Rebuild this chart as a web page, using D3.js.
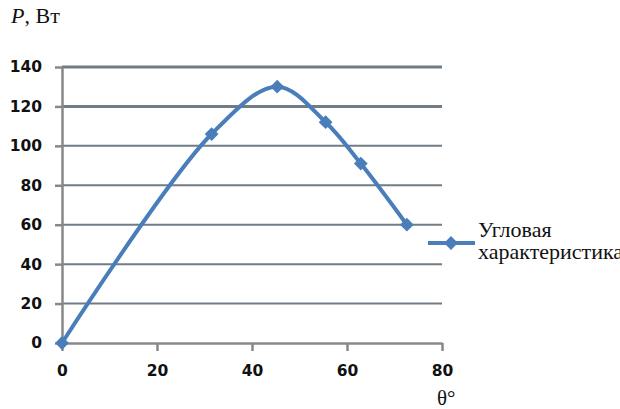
<!DOCTYPE html>
<html><head><meta charset="utf-8">
<script src="https://cdn.jsdelivr.net/npm/d3@7"></script>
<style>
body{margin:0;}
#wrap{position:relative;width:620px;height:409px;background:#fff;}
#wrap svg{position:absolute;left:0;top:0;}
.lbl{position:absolute;font-family:"Liberation Serif","Times New Roman",serif;color:#111;white-space:nowrap;line-height:1;}
</style>
</head>
<body>
<div id="wrap"><svg id="chart" width="620" height="409"></svg></div>
<script>
const thetaValues = [0, 31.5, 45.3, 55.5, 62.9, 72.6];
const powerValues = [0, 106, 130, 112, 91, 60];
const xTicks = [0, 20, 40, 60, 80];
const yTicks = [0, 20, 40, 60, 80, 100, 120, 140];
const seriesName = ["Угловая", "характеристика"];
const yTitle = ", Вт";
const yTitleVar = "P";
const xTitle = "θ°";

const SANS = "DejaVu Sans";
const svg = d3.select("#chart");
const wrap = d3.select("#wrap");
const x = d3.scaleLinear().domain([0, 80]).range([62, 442]);
const y = d3.scaleLinear().domain([0, 140]).range([343, 67]);

// gridlines
svg.append("g").selectAll("line").data(yTicks.filter(d => d > 0)).join("line")
  .attr("x1", x(0)).attr("x2", x(80))
  .attr("y1", d => y(d)).attr("y2", d => y(d))
  .attr("stroke", "#717c85")
  .attr("stroke-width", d => d >= 120 ? 3 : 2);

const yAxis = svg.append("g").attr("transform", `translate(${x(0)},0)`)
  .call(d3.axisLeft(y).tickValues(yTicks).tickSize(7).tickSizeOuter(0).tickPadding(13));
const xAxis = svg.append("g").attr("transform", `translate(0,${y(0)})`)
  .call(d3.axisBottom(x).tickValues(xTicks).tickSize(8).tickSizeOuter(0).tickPadding(14));

[yAxis, xAxis].forEach(g => {
  g.attr("font-family", SANS).attr("font-size", 15.5).attr("font-weight", "bold");
  g.select(".domain").attr("stroke", "#888").attr("stroke-width", 2.5);
  g.selectAll(".tick line").attr("stroke", "#888").attr("stroke-width", 2.5);
  g.selectAll(".tick text").attr("fill", "#111");
});

const pts = thetaValues.map((t, i) => [t, powerValues[i]]);
const line = d3.line().x(d => x(d[0])).y(d => y(d[1])).curve(d3.curveCatmullRom.alpha(0.5));
const blue = "#4a7ebb";
svg.append("path").attr("d", line(pts)).attr("fill", "none")
  .attr("stroke", blue).attr("stroke-width", 4).attr("stroke-linejoin", "round");
const diamond = d3.symbol().type(d3.symbolSquare).size(95);
svg.append("g").selectAll("path").data(pts).join("path")
  .attr("d", diamond)
  .attr("transform", d => `translate(${x(d[0])},${y(d[1])}) rotate(45)`)
  .attr("fill", blue);

// legend
svg.append("line").attr("x1", 428).attr("x2", 475).attr("y1", 243).attr("y2", 243)
  .attr("stroke", blue).attr("stroke-width", 4);
svg.append("path").attr("d", diamond).attr("transform", "translate(451,243) rotate(45)").attr("fill", blue);

// HTML text labels (serif)
function label(left, top, size, html) {
  return wrap.append("div").attr("class", "lbl")
    .style("left", left + "px").style("top", top + "px").style("font-size", size + "px")
    .html(html);
}
label(478, 219, 22, seriesName[0]);
label(478, 241, 22, seriesName[1]);
label(11, 5, 22, "<i>" + yTitleVar + "</i>" + yTitle);
label(437, 388, 21, xTitle);
</script>
</body></html>
